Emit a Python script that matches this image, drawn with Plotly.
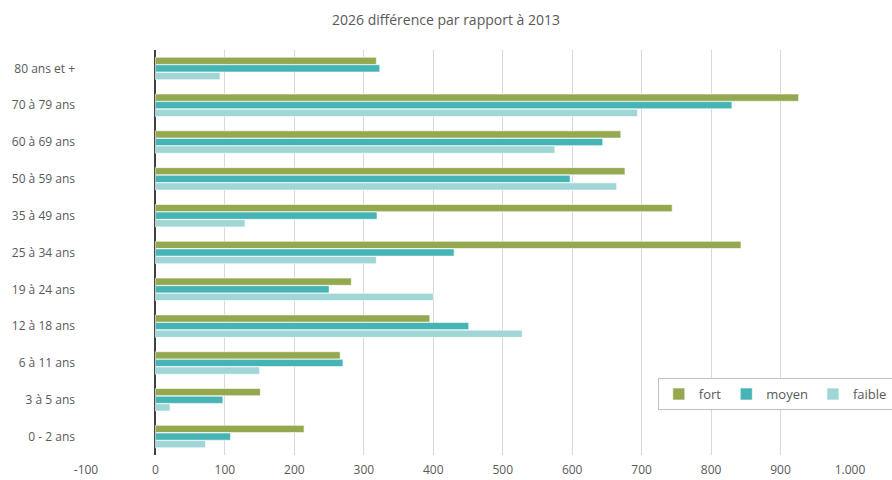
import plotly.graph_objects as go

categories = ["80 ans et +", "70 à 79 ans", "60 à 69 ans", "50 à 59 ans", "35 à 49 ans",
              "25 à 34 ans", "19 à 24 ans", "12 à 18 ans", "6 à 11 ans", "3 à 5 ans", "0 - 2 ans"]
fort = [318, 926, 670, 676, 744, 843, 282, 395, 266, 151, 214]
moyen = [323, 830, 644, 597, 319, 430, 250, 451, 270, 97, 108]
faible = [93, 694, 575, 664, 129, 318, 400, 528, 150, 21, 72]

x_tickvals = [-100, 0, 100, 200, 300, 400, 500, 600, 700, 800, 900, 1000]
x_ticktext = ["-100", "0", "100", "200", "300", "400", "500", "600", "700", "800", "900", "1.000"]

series = [("fort", fort, "#94A84F"), ("moyen", moyen, "#46B4B4"), ("faible", faible, "#A0D6D6")]

fig = go.Figure()
for name, vals, col in series:
    fig.add_trace(go.Bar(y=categories, x=vals, name=name, orientation="h",
                         marker=dict(color=col, line=dict(color="white", width=0.6))))

font_fam = "Open Sans, Lato, sans-serif"
fig.update_layout(
    width=892, height=480,
    paper_bgcolor="white", plot_bgcolor="white",
    margin=dict(l=86, r=42, t=50, b=25, autoexpand=False),
    barmode="group", bargap=0.38, bargroupgap=0.05,
    title=dict(text="2026 différence par rapport à 2013", x=0.5, xanchor="center",
               y=0.958, yanchor="middle",
               font=dict(family=font_fam, size=14, color="#595959")),
    font=dict(family=font_fam, size=12, color="#595959"),
    xaxis=dict(range=[-100, 1000], tickvals=x_tickvals, ticktext=x_ticktext,
               showgrid=True, gridcolor="#D9D9D9", gridwidth=1,
               zeroline=True, zerolinecolor="#404040", zerolinewidth=1.5,
               showline=False, ticks="", ticklabelstandoff=6,
               tickfont=dict(size=12, color="#595959")),
    yaxis=dict(categoryorder="array", categoryarray=categories, autorange="reversed",
               showgrid=False, showline=False, ticks="", ticklabelstandoff=10,
               tickfont=dict(size=12, color="#595959")),
    legend=dict(orientation="h", x=1.056, y=0.19, xanchor="right", yanchor="top",
                bgcolor="white", bordercolor="#BFBFBF", borderwidth=1,
                font=dict(size=13, color="#595959"), itemwidth=30,
                traceorder="normal"),
)

fig.write_html("out.html")
